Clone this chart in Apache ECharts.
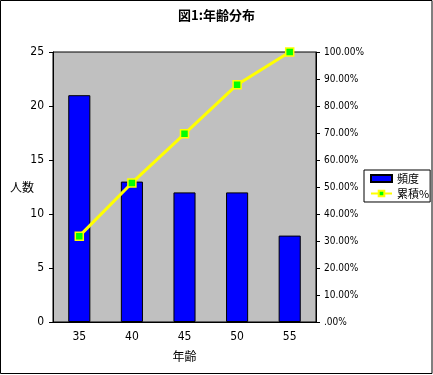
<!DOCTYPE html>
<html><head><meta charset="utf-8">
<style>html,body{margin:0;padding:0;background:#fff}#c{width:433px;height:375px}</style>
<script src="https://cdn.jsdelivr.net/npm/echarts@6/dist/echarts.min.js"></script>
</head><body><div id="c"></div>
<script>
var categories = ['35', '40', '45', '50', '55'];
var frequency = [21, 13, 12, 12, 8];
var cumulativePct = [31.8, 51.5, 69.7, 87.9, 100];
var pctLabels = ['.00%', '10.00%', '20.00%', '30.00%', '40.00%', '50.00%', '60.00%', '70.00%', '80.00%', '90.00%', '100.00%'];

var FONT = '"Noto Sans CJK JP", "DejaVu Sans", sans-serif';
var NUM = '"Liberation Sans Narrow", "DejaVu Sans Condensed", "Liberation Sans", sans-serif';
var chart = echarts.init(document.getElementById('c'));
chart.setOption({
  animation: false,
  backgroundColor: '#fff',
  textStyle: { fontFamily: FONT, color: '#000' },
  title: {
    text: '図1:年齢分布', left: 'center', top: 4,
    textStyle: { fontFamily: FONT, fontSize: 13, fontWeight: 'bold', color: '#000' }
  },
  graphic: [{
    type: 'rect', silent: true, z: -1,
    shape: { x: 0.5, y: 0.5, width: 431.5, height: 373 },
    style: { fill: null, stroke: '#000', lineWidth: 1 }
  }],
  legend: {
    orient: 'vertical', left: 364, top: 170,
    backgroundColor: '#fff', borderColor: '#000', borderWidth: 1,
    padding: [3, 1, 3, 6], itemGap: 4, itemWidth: 21, itemHeight: 7,
    textStyle: { fontFamily: FONT, fontSize: 11, color: '#000' },
    data: [
      { name: '頻度', icon: 'rect' },
      { name: '累積%' }
    ]
  },
  grid: { left: 53, top: 52, right: 117, bottom: 53, show: true, backgroundColor: '#C0C0C0', borderColor: '#000', borderWidth: 1 },
  xAxis: {
    type: 'category', data: categories,
    name: '年齢', nameLocation: 'middle', nameGap: 28,
    nameTextStyle: { fontFamily: FONT, fontSize: 12, color: '#000' },
    axisLine: { lineStyle: { color: '#000' } },
    axisTick: { inside: true, length: 4, lineStyle: { color: '#000' } },
    axisLabel: { margin: 9, fontSize: 12, color: '#000', fontFamily: NUM }
  },
  yAxis: [{
    type: 'value', min: 0, max: 25, interval: 5,
    name: '人数', nameLocation: 'middle', nameRotate: 0, nameGap: 19, nameMoveOverlap: false,
    nameTextStyle: { fontFamily: FONT, fontSize: 12, color: '#000', align: 'right', verticalAlign: 'middle' },
    axisLine: { show: true, lineStyle: { color: '#000' } },
    axisTick: { show: true, length: 4, lineStyle: { color: '#000' } },
    axisLabel: { margin: 9, fontSize: 12, color: '#000', fontFamily: NUM },
    splitLine: { show: false }
  }, {
    type: 'value', min: 0, max: 100, interval: 10, position: 'right',
    axisLine: { show: true, lineStyle: { color: '#000' } },
    axisTick: { show: true, length: 4, lineStyle: { color: '#000' } },
    axisLabel: { margin: 8, fontSize: 10, color: '#000', fontFamily: NUM,
      formatter: function (v) { return pctLabels[Math.round(v / 10)]; } },
    splitLine: { show: false }
  }],
  series: [{
    name: '頻度', type: 'bar', data: frequency, barWidth: '42%',
    itemStyle: { color: '#0000FF', borderColor: '#000', borderWidth: 1 }
  }, {
    name: '累積%', type: 'line', yAxisIndex: 1, data: cumulativePct,
    symbol: 'rect', symbolSize: 8,
    lineStyle: { color: '#FFFF00', width: 3 },
    itemStyle: { color: '#00FF00', borderColor: '#FFFF00', borderWidth: 1.5 }
  }]
});
</script></body></html>
